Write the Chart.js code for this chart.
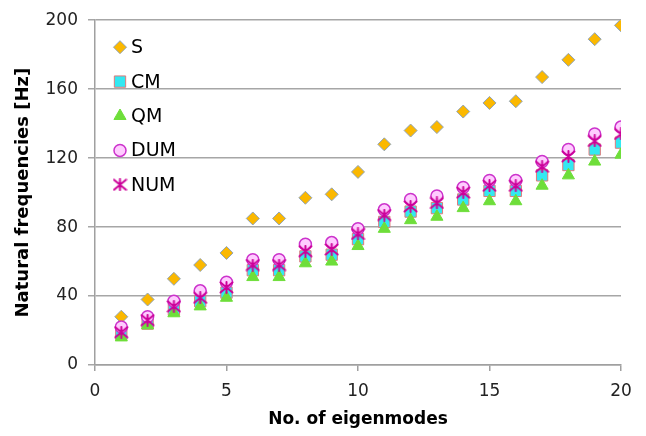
<!DOCTYPE html>
<html>
<head>
<meta charset="utf-8">
<script src="https://cdn.jsdelivr.net/npm/chart.js@4.4.1/dist/chart.umd.min.js"></script>
<style>
    html, body { margin: 0; padding: 0; background: #fff; }
</style>
</head>
<body>
<canvas id="freqChart" width="646" height="436"></canvas>
<script>
// eigenmode numbers and natural frequencies [Hz]
const modes = [1, 2, 3, 4, 5, 6, 7, 8, 9, 10, 11, 12, 13, 14, 15, 16, 17, 18, 19, 20];
const sFreq   = [28, 38, 50, 58, 65, 85, 85, 97, 99, 112, 128, 136, 138, 147, 152, 153, 167, 177, 189, 197];
const cmFreq  = [18, 24, 32, 37, 42, 55, 55, 63, 64, 73, 83, 89, 91, 96, 101, 101, 110, 116, 125, 129];
const qmFreq  = [16, 23, 30, 34, 39, 51, 51, 59, 60, 69, 79, 84, 86, 91, 95, 95, 104, 110, 118, 122];
const dumFreq = [22, 28, 37, 43, 48, 61, 61, 70, 71, 79, 90, 96, 98, 103, 107, 107, 118, 125, 134, 138];
const numFreq = [19, 26, 34, 39, 45, 58, 58, 66, 67, 76, 87, 92, 94, 100, 104, 104, 115, 121, 130, 134];

const xTicks = { min: 0, max: 20, step: 5 };
const yTicks = { min: 0, max: 200, step: 40 };

const fontFamily = "'DejaVu Sans', Arial, sans-serif";

function toPoints(values) {
    return modes.map((m, i) => ({ x: m, y: values[i] }));
}

// excel-like asterisk marker (X with a vertical bar)
function asteriskMarker(w, h, color) {
    const c = document.createElement('canvas');
    c.width = w;
    c.height = h;
    const g = c.getContext('2d');
    g.strokeStyle = color;
    g.lineWidth = 2;
    g.lineCap = 'round';
    const mx = w / 2, my = h / 2;
    g.beginPath();
    g.moveTo(mx, 1); g.lineTo(mx, h - 1);
    g.moveTo(1.5, 1.5); g.lineTo(w - 1.5, h - 1.5);
    g.moveTo(w - 1.5, 1.5); g.lineTo(1.5, h - 1.5);
    g.stroke();
    return c;
}

const numMarker = asteriskMarker(15, 13, '#cc0099');

// legend drawn inside the plot area, one entry per line like the original
const insideLegend = {
    id: 'insideLegend',
    afterDatasetsDraw(chart) {
        const c = chart.ctx;
        const area = chart.chartArea;
        c.save();
        c.font = '19px ' + fontFamily;
        c.textBaseline = 'middle';
        c.textAlign = 'left';
        chart.data.datasets.forEach((ds, i) => {
            const y = area.top + 27 + i * 34.4;
            const x = area.left + 25;
            c.fillStyle = ds.backgroundColor;
            c.strokeStyle = ds.borderColor;
            c.lineWidth = ds.borderWidth || 0;
            Chart.helpers.drawPoint(c, {
                pointStyle: ds.pointStyle,
                radius: ds.pointRadius,
                rotation: 0,
                borderWidth: ds.borderWidth || 0
            }, x, y);
            c.fillStyle = '#000';
            c.fillText(ds.label, x + 11, y + 1);
        });
        c.restore();
    }
};

const ctx = document.getElementById('freqChart').getContext('2d');
const chart = new Chart(ctx, {
    type: 'scatter',
    data: {
        datasets: [
            {
                label: 'S',
                data: toPoints(sFreq),
                pointStyle: 'rectRot',
                pointRadius: 6.5,
                backgroundColor: '#fbb800',
                borderColor: '#8ea3b8',
                borderWidth: 1,
                order: 5
            },
            {
                label: 'CM',
                data: toPoints(cmFreq),
                pointStyle: 'rect',
                pointRadius: 8,
                backgroundColor: '#33e8f2',
                borderColor: '#e07a7a',
                borderWidth: 1,
                order: 4
            },
            {
                label: 'QM',
                data: toPoints(qmFreq),
                pointStyle: 'triangle',
                pointRadius: 7,
                backgroundColor: '#6ede3a',
                borderColor: '#6ede3a',
                borderWidth: 1,
                order: 3
            },
            {
                label: 'DUM',
                data: toPoints(dumFreq),
                pointStyle: 'circle',
                pointRadius: 6,
                backgroundColor: '#ffccff',
                borderColor: '#cc33cc',
                borderWidth: 1.5,
                order: 2
            },
            {
                label: 'NUM',
                data: toPoints(numFreq),
                pointStyle: numMarker,
                pointRadius: 7,
                backgroundColor: '#cc0099',
                borderColor: '#cc0099',
                order: 1
            }
        ]
    },
    options: {
        responsive: false,
        animation: false,
        layout: {
            padding: { top: 18, right: 25, left: 0, bottom: 0 }
        },
        plugins: {
            tooltip: { enabled: false },
            legend: { display: false }
        },
        scales: {
            x: {
                type: 'linear',
                min: xTicks.min,
                max: xTicks.max,
                afterFit: function (scale) { scale.height = 71; },
                ticks: {
                    stepSize: xTicks.step,
                    padding: 10,
                    color: '#222',
                    font: { family: fontFamily, size: 17 }
                },
                grid: {
                    drawOnChartArea: false,
                    color: '#a0a0a0',
                    lineWidth: 1.5,
                    tickLength: 6
                },
                border: { color: '#a0a0a0', width: 1.5 },
                title: {
                    display: true,
                    text: 'No. of eigenmodes',
                    color: '#000',
                    font: { family: fontFamily, size: 17, weight: 'bold' },
                    padding: { top: 0, bottom: 6 }
                }
            },
            y: {
                min: yTicks.min,
                max: yTicks.max,
                afterFit: function (scale) { scale.width = 95; },
                ticks: {
                    stepSize: yTicks.step,
                    padding: 10,
                    color: '#222',
                    font: { family: fontFamily, size: 17 }
                },
                grid: {
                    color: '#a6a6a6',
                    lineWidth: 1.5,
                    tickLength: 7
                },
                border: { color: '#a0a0a0', width: 1.5 },
                title: {
                    display: true,
                    text: 'Natural frequencies [Hz]',
                    color: '#000',
                    font: { family: fontFamily, size: 18, weight: 'bold' },
                    padding: { top: 13, bottom: 0 }
                }
            }
        }
    },
    plugins: [insideLegend]
});
</script>
</body>
</html>
